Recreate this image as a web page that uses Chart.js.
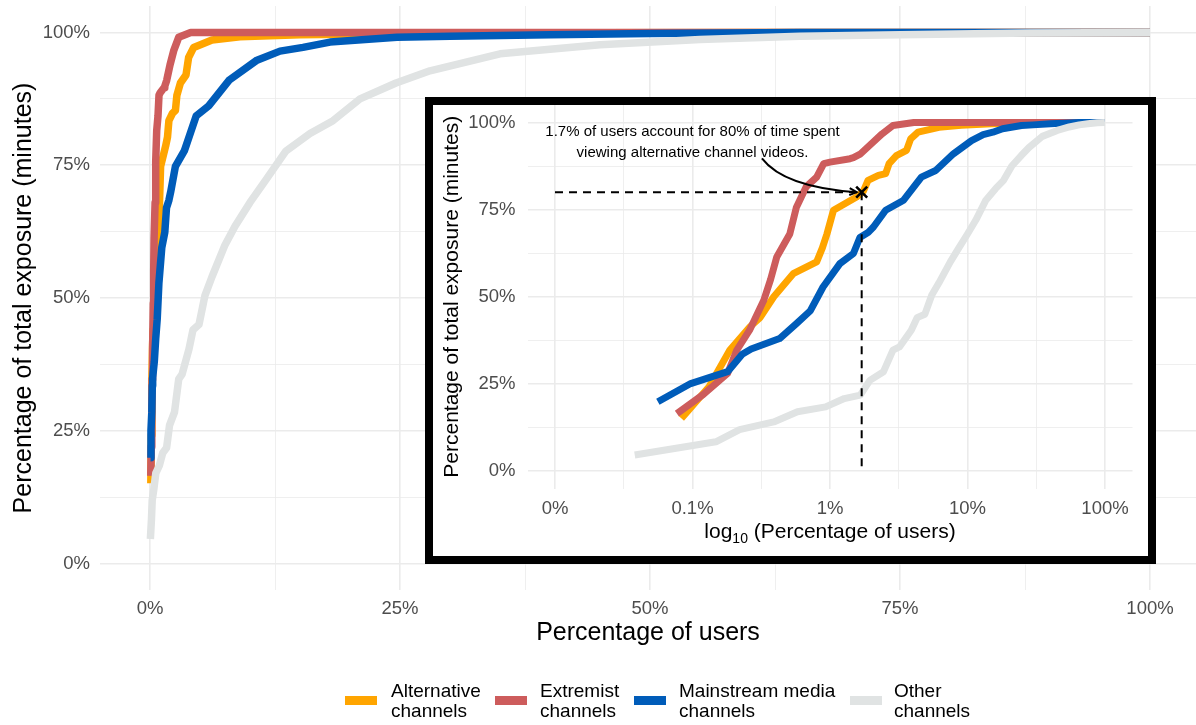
<!DOCTYPE html>
<html>
<head>
<meta charset="utf-8">
<script src="https://cdn.jsdelivr.net/npm/chart.js@4.4.1/dist/chart.umd.min.js"></script>
<style>
  body { margin: 0; background: #fff; font-family: "Liberation Sans", Arial, sans-serif; }
  #wrap { position: relative; width: 1196px; height: 725px; overflow: hidden; }
  canvas { display: block; }
  #inset { position: absolute; left: 425px; top: 97px; width: 731px; height: 467px;
           border: 8px solid #000; box-sizing: border-box; background: #fff; }
  .key { position: absolute; top: 696px; width: 32px; height: 9px; }
  .lab { position: absolute; top: 681px; font-size: 19px; line-height: 20px; color: #000; white-space: nowrap; }
</style>
</head>
<body>
<div id="wrap">
  <canvas id="mainChart" width="1196" height="725"></canvas>
  <div id="inset"><canvas id="insetChart" width="715" height="451"></canvas></div>
  <div id="legend"></div>
</div>
<script>
// Lorenz-style curves: % of users (x) vs cumulative % of exposure minutes (y)
const altX = [0.083, 0.132, 0.187, 0.262, 0.31, 0.39, 0.54, 0.8, 0.88, 0.95, 1.06, 1.56, 1.75, 1.89, 2.25, 2.54, 2.69, 3.04, 3.6, 3.86, 4.37, 6.2, 9, 15, 30, 60, 100];
const altY = [15.1, 24.2, 34.7, 41.4, 44, 50, 56.6, 60, 64, 68, 74.8, 78.6, 80.3, 83.4, 84.8, 85.3, 88.2, 90.5, 92, 95.3, 97.2, 98.6, 99.2, 99.6, 99.9, 100, 100];

const extX = [0.077, 0.12, 0.18, 0.21, 0.26, 0.33, 0.37, 0.41, 0.51, 0.57, 0.67, 0.8, 0.9, 1.0, 1.4, 1.48, 1.67, 2.0, 2.39, 2.87, 4.07, 10, 100];
const extY = [16.5, 22, 28, 34.7, 40.4, 49, 55, 61.4, 68, 75.7, 81.5, 84.3, 88.2, 88.6, 89.6, 89.9, 91, 93.9, 96.7, 99.1, 100, 100, 100];

const mainX = [0.056, 0.097, 0.18, 0.23, 0.267, 0.43, 0.57, 0.72, 0.89, 1.18, 1.48, 1.65, 1.89, 2.07, 2.54, 3.43, 4.62, 5.87, 7.9, 10.7, 13, 15.3, 18, 24.7, 30, 40, 50, 65, 100];
const mainY = [19.9, 25.1, 28.5, 33.5, 35, 38, 42.3, 46, 52.8, 59.5, 62.4, 67, 68.4, 70, 74.8, 77.7, 84.3, 86.2, 91, 94.8, 96.5, 97.2, 98.2, 99.1, 99.3, 99.6, 99.8, 100, 100];

const otherX = [0.038, 0.148, 0.22, 0.39, 0.58, 0.93, 1.27, 1.66, 1.95, 2.45, 2.87, 3.2, 3.9, 4.3, 4.9, 5.5, 6.2, 7.5, 8.5, 10, 11.5, 13.6, 16, 18.3, 21, 24.6, 28, 35, 45, 55, 65, 75, 88, 100];
const otherY = [4.6, 8.4, 11.9, 14.1, 17, 18.4, 20.8, 21.8, 26, 28.5, 34.7, 35.6, 40.4, 44, 45, 50.5, 54, 60, 63.5, 68, 72, 77.7, 81, 83.4, 87.5, 90.5, 92.8, 96, 97.7, 98.7, 99.3, 99.6, 99.9, 100];

const seriesNames = ['Alternative channels', 'Extremist channels', 'Mainstream media channels', 'Other channels'];
const seriesColors = ['#FFA500', '#CD5C5C', '#005CB9', '#E0E3E3'];
const seriesX = [altX, extX, mainX, otherX];
const seriesY = [altY, extY, mainY, otherY];

// axis ticks (labels only on the major ones)
const pctTicks = [0, 12.5, 25, 37.5, 50, 62.5, 75, 87.5, 100];
const pctLabels = ['0%', '', '25%', '', '50%', '', '75%', '', '100%'];
const logTicks = [0.01, 0.0316, 0.1, 0.316, 1, 3.16, 10, 31.6, 100];
const logLabels = ['0%', '', '0.1%', '', '1%', '', '10%', '', '100%'];

// annotation in the inset
const markX = 1.7, markY = 80;
const noteX = 0.1, noteY = 94.4;
const noteLines = ['1.7% of users account for 80% of time spent', 'viewing alternative channel videos.'];
const arrowFromX = 0.32, arrowFromY = 89.7;

const FONT = '"Liberation Sans", Arial, sans-serif';
const GRID = '#EBEBEB';
const TICK = '#4D4D4D';

function buildDatasets(width) {
    return seriesNames.map((name, i) => ({
        label: name,
        data: seriesX[i].map((x, j) => ({ x: x, y: seriesY[i][j] })),
        borderColor: seriesColors[i],
        backgroundColor: seriesColors[i],
        borderWidth: width,
        order: 3 - i,
        pointRadius: 0,
        fill: false,
        tension: 0,
        borderCapStyle: 'butt',
        borderJoinStyle: 'round'
    }));
}

function setTicks(list) {
    return function (scale) { scale.ticks = list.map(v => ({ value: v })); };
}
// fixed axis size, no extra room for the end labels
function fitX(h) {
    return function (s) { s.height = h; s.paddingLeft = 0; s.paddingRight = 0; };
}
function fitY(w) {
    return function (s) { s.width = w; s.paddingTop = 0; s.paddingBottom = 0; };
}
const gridOpts = { color: GRID, drawTicks: false, lineWidth: c => (c.index % 2 === 0 ? 1.6 : 0.8) };

// main chart
new Chart(document.getElementById('mainChart').getContext('2d'), {
    type: 'line',
    data: { datasets: buildDatasets(7.5) },
    options: {
        responsive: false,
        animation: false,
        layout: { padding: { top: 6, right: 0, bottom: 77, left: 0 } },
        plugins: { legend: { display: false }, tooltip: { enabled: false } },
        scales: {
            x: {
                type: 'linear', min: -5, max: 104.6,
                afterBuildTicks: setTicks(pctTicks),
                afterFit: fitX(58),
                border: { display: false },
                grid: gridOpts,
                ticks: { autoSkip: false, maxRotation: 0, padding: 8, color: TICK,
                         font: { family: FONT, size: 18.5 }, callback: (v, i) => pctLabels[i] },
                title: { display: true, text: 'Percentage of users', color: '#000',
                         font: { family: FONT, size: 25 }, padding: { top: 0, bottom: 0 } }
            },
            y: {
                type: 'linear', min: -5, max: 105,
                afterBuildTicks: setTicks(pctTicks),
                afterFit: fitY(100),
                border: { display: false },
                grid: gridOpts,
                ticks: { autoSkip: false, padding: 10, color: TICK,
                         font: { family: FONT, size: 18.5 }, callback: (v, i) => pctLabels[i] },
                title: { display: true, text: 'Percentage of total exposure (minutes)', color: '#000',
                         font: { family: FONT, size: 25 }, padding: { top: 9, bottom: 0 } }
            }
        }
    }
});

// draws the dashed guides, the cross, the note with its arrow and the log10 title
const insetExtras = {
    id: 'insetExtras',
    afterDatasetsDraw(chart) {
        const ctx = chart.ctx;
        const sx = chart.scales.x, sy = chart.scales.y;
        const px = sx.getPixelForValue(markX), py = sy.getPixelForValue(markY);
        const x0 = sx.getPixelForValue(logTicks[0]), y0 = sy.getPixelForValue(0);
        ctx.save();
        ctx.strokeStyle = '#000';
        ctx.lineWidth = 2;
        ctx.setLineDash([8, 6]);
        ctx.beginPath();
        ctx.moveTo(x0, py); ctx.lineTo(px, py);
        ctx.moveTo(px, py); ctx.lineTo(px, y0);
        ctx.stroke();
        ctx.setLineDash([]);

        // cross
        ctx.lineWidth = 2.6;
        ctx.beginPath();
        ctx.moveTo(px - 5.5, py - 5.5); ctx.lineTo(px + 5.5, py + 5.5);
        ctx.moveTo(px - 5.5, py + 5.5); ctx.lineTo(px + 5.5, py - 5.5);
        ctx.stroke();

        // note
        const nx = sx.getPixelForValue(noteX), ny = sy.getPixelForValue(noteY);
        ctx.fillStyle = '#000';
        ctx.font = '15px ' + FONT;
        ctx.textAlign = 'center';
        ctx.textBaseline = 'middle';
        ctx.fillText(noteLines[0], nx, ny - 10.5);
        ctx.fillText(noteLines[1], nx, ny + 10.5);

        // curved arrow
        const ax = sx.getPixelForValue(arrowFromX), ay = sy.getPixelForValue(arrowFromY);
        const ex = px - 5, ey = py;
        const cx = ax + 22, cy = ey - 5;
        ctx.lineWidth = 2;
        ctx.beginPath();
        ctx.moveTo(ax, ay);
        ctx.quadraticCurveTo(cx, cy, ex, ey);
        ctx.stroke();
        const ang = Math.atan2(ey - cy, ex - cx);
        ctx.beginPath();
        ctx.moveTo(ex - 8 * Math.cos(ang - 0.45), ey - 8 * Math.sin(ang - 0.45));
        ctx.lineTo(ex, ey);
        ctx.lineTo(ex - 8 * Math.cos(ang + 0.45), ey - 8 * Math.sin(ang + 0.45));
        ctx.stroke();

        // x title with subscript
        const tx = (chart.chartArea.left + chart.chartArea.right) / 2;
        const ty = sx.bottom - 12.5;
        const a = 'log', b = '10', c = ' (Percentage of users)';
        ctx.font = '21px ' + FONT;
        const wa = ctx.measureText(a).width, wc = ctx.measureText(c).width;
        ctx.font = '14px ' + FONT;
        const wb = ctx.measureText(b).width;
        const left = tx - (wa + wb + wc) / 2;
        ctx.textAlign = 'left';
        ctx.font = '21px ' + FONT;
        ctx.fillText(a, left, ty);
        ctx.font = '14px ' + FONT;
        ctx.fillText(b, left + wa, ty + 7);
        ctx.font = '21px ' + FONT;
        ctx.fillText(c, left + wa + wb, ty);
        ctx.restore();
    }
};

// inset chart (log10 x axis)
new Chart(document.getElementById('insetChart').getContext('2d'), {
    type: 'line',
    data: { datasets: buildDatasets(7) },
    options: {
        responsive: false,
        animation: false,
        layout: { padding: { top: 0, right: 15.5, bottom: 11.5, left: 0 } },
        plugins: { legend: { display: false }, tooltip: { enabled: false } },
        scales: {
            x: {
                type: 'logarithmic', min: 0.00631, max: 158.5,
                afterBuildTicks: setTicks(logTicks),
                afterFit: fitX(56),
                border: { display: false },
                grid: gridOpts,
                ticks: { autoSkip: false, maxRotation: 0, padding: 9, color: TICK,
                         font: { family: FONT, size: 18.5 }, callback: (v, i) => logLabels[i] },
                title: { display: false }
            },
            y: {
                type: 'linear', min: -5, max: 105,
                afterBuildTicks: setTicks(pctTicks),
                afterFit: fitY(94.5),
                border: { display: false },
                grid: gridOpts,
                ticks: { autoSkip: false, padding: 12, color: TICK,
                         font: { family: FONT, size: 18.5 }, callback: (v, i) => pctLabels[i] },
                title: { display: true, text: 'Percentage of total exposure (minutes)', color: '#000',
                         font: { family: FONT, size: 21 }, padding: { top: 7, bottom: 0 } }
            }
        }
    },
    plugins: [insetExtras]
});

// legend (keys and two-line labels)
const keyLeft = [345, 495, 634, 850];
const labLeft = [391, 540, 679, 894];
const legend = document.getElementById('legend');
seriesNames.forEach((name, i) => {
    const words = name.split(' ');
    const last = words.pop();
    const key = document.createElement('div');
    key.className = 'key';
    key.style.left = keyLeft[i] + 'px';
    key.style.background = seriesColors[i];
    const lab = document.createElement('div');
    lab.className = 'lab';
    lab.style.left = labLeft[i] + 'px';
    lab.innerHTML = words.join(' ') + '<br>' + last;
    legend.appendChild(key);
    legend.appendChild(lab);
});
</script>
</body>
</html>
